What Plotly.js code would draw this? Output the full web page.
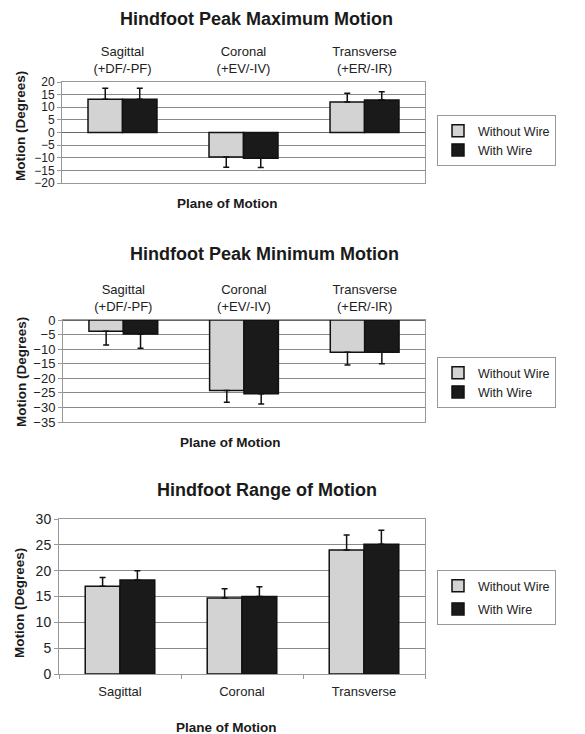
<!DOCTYPE html>
<html>
<head>
<meta charset="utf-8">
<script src="https://cdn.plot.ly/plotly-3.0.1.min.js"></script>
<style>html,body{margin:0;padding:0;background:#fff;}#chart{width:585px;height:734px;}</style>
</head>
<body>
<div id="chart"></div>
<script>
// ---- Data ----
const planes = ['Sagittal', 'Coronal', 'Transverse'];
const planeLabelsTop = ['Sagittal<br>(+DF/-PF)', 'Coronal<br>(+EV/-IV)', 'Transverse<br>(+ER/-IR)'];
const seriesNames = ['Without Wire', 'With Wire'];

// Hindfoot Peak Maximum Motion (degrees)
const maxWithout = [13.2, -9.7, 12.1];
const maxWithoutSD = [4.3, 4.1, 3.4];
const maxWith = [13.2, -10.2, 12.9];
const maxWithSD = [4.3, 3.7, 3.2];

// Hindfoot Peak Minimum Motion (degrees)
const minWithout = [-3.9, -24.2, -11.1];
const minWithoutSD = [4.7, 4.0, 4.3];
const minWith = [-4.8, -25.3, -11.1];
const minWithSD = [4.9, 3.5, 3.9];

// Hindfoot Range of Motion (degrees)
const romWithout = [17.0, 14.7, 24.0];
const romWithoutSD = [1.7, 1.8, 2.9];
const romWith = [18.2, 15.0, 25.1];
const romWithSD = [1.8, 1.9, 2.7];

// ---- Styling ----
const FONT = 'Liberation Sans, Arial, Helvetica, sans-serif';
const GRAY = '#d3d3d3';
const BLACK = '#1a1a1a';
const GRID = '#8a8a8a';
const W = 585, H = 734;
const px = v => v / W;
const py = v => 1 - v / H;

function err(vals, sd) {
  return {
    type: 'data', symmetric: false,
    array: vals.map((v, i) => v >= 0 ? sd[i] : 0),
    arrayminus: vals.map((v, i) => v < 0 ? sd[i] : 0),
    color: '#111', thickness: 1.5, width: 3
  };
}
function bar(name, vals, sd, color, ax, legend) {
  return {
    type: 'bar', name: name, x: planes, y: vals,
    xaxis: 'x' + ax, yaxis: 'y' + ax, legend: legend,
    legendgroup: legend + name, showlegend: true,
    marker: {color: color, line: {color: '#111', width: 1.5}},
    error_y: err(vals, sd), hoverinfo: 'skip'
  };
}

const data = [
  bar(seriesNames[0], maxWithout, maxWithoutSD, GRAY, '', 'legend'),
  bar(seriesNames[1], maxWith, maxWithSD, BLACK, '', 'legend'),
  bar(seriesNames[0], minWithout, minWithoutSD, GRAY, '2', 'legend2'),
  bar(seriesNames[1], minWith, minWithSD, BLACK, '2', 'legend2'),
  bar(seriesNames[0], romWithout, romWithoutSD, GRAY, '3', 'legend3'),
  bar(seriesNames[1], romWith, romWithSD, BLACK, '3', 'legend3')
];

function yax(domain, range, anchor, fsize) {
  return {
    domain: domain, range: range, dtick: 5, anchor: anchor,
    showgrid: true, gridcolor: GRID, gridwidth: 1,
    zeroline: true, zerolinecolor: '#666', zerolinewidth: 1,
    showline: true, mirror: true, linecolor: '#999', linewidth: 1,
    ticks: 'outside', ticklen: 4, tickcolor: '#999',
    tickfont: {family: FONT, size: fsize, color: '#222'},
    fixedrange: true, automargin: false
  };
}
function xaxTop(domain, anchor) {
  return {
    domain: domain, anchor: anchor, side: 'top', type: 'category',
    tickvals: planes, ticktext: planeLabelsTop, ticks: '',
    showline: true, mirror: true, linecolor: '#999', linewidth: 1,
    showgrid: false, tickfont: {family: FONT, size: 13, color: '#222'},
    ticklabelstandoff: 3, fixedrange: true, automargin: false
  };
}

const legendBase = (top) => ({
  x: px(437), xanchor: 'left', y: py(top), yanchor: 'top',
  bordercolor: '#999', borderwidth: 1, bgcolor: '#fff',
  font: {family: FONT, size: 12.5, color: '#222'},
  itemwidth: 30, tracegroupgap: 0, traceorder: 'normal'
});

function ann(text, x, y, size, bold, angle) {
  return {
    text: bold ? '<b>' + text + '</b>' : text, xref: 'paper', yref: 'paper',
    x: px(x), y: py(y), xanchor: 'center', yanchor: 'middle', showarrow: false,
    textangle: angle || 0, font: {family: FONT, size: size, color: '#1a1a1a'}
  };
}

const layout = {
  width: W, height: H,
  margin: {l: 0, r: 0, t: 0, b: 0},
  paper_bgcolor: '#fff', plot_bgcolor: '#fff',
  barmode: 'group', bargap: 0.43, bargroupgap: 0,
  showlegend: true,
  xaxis: xaxTop([px(62), px(425)], 'y'),
  yaxis: yax([py(183), py(82)], [-20, 20], 'x', 12),
  xaxis2: xaxTop([px(63), px(425)], 'y2'),
  yaxis2: yax([py(422), py(320)], [-35, 0], 'x2', 13),
  xaxis3: {
    domain: [px(59), px(425)], anchor: 'y3', type: 'category',
    ticks: 'outside', tickson: 'boundaries', ticklen: 4, tickcolor: '#999',
    showline: true, mirror: true, linecolor: '#999', linewidth: 1,
    tickfont: {family: FONT, size: 13, color: '#222'},
    ticklabelstandoff: 5, fixedrange: true, automargin: false
  },
  yaxis3: yax([py(674), py(519)], [0, 30], 'x3', 14),
  legend: legendBase(115),
  legend2: legendBase(357),
  legend3: Object.assign(legendBase(570), {traceorder: 'grouped', tracegroupgap: 4}),
  annotations: [
    ann('Hindfoot Peak Maximum Motion', 256, 19, 18, true),
    ann('Plane of Motion', 227, 203, 13.5, true),
    ann('Motion (Degrees)', 21, 126, 13.5, true, -90),
    ann('Hindfoot Peak Minimum Motion', 264, 254, 18, true),
    ann('Plane of Motion', 230, 442, 13.5, true),
    ann('Motion (Degrees)', 21, 372, 13.5, true, -90),
    ann('Hindfoot Range of Motion', 267, 490, 18, true),
    ann('Plane of Motion', 226, 727, 13.5, true),
    ann('Motion (Degrees)', 19, 603, 13.5, true, -90)
  ]
};

Plotly.newPlot('chart', data, layout, {staticPlot: true, displayModeBar: false});
</script>
</body>
</html>
